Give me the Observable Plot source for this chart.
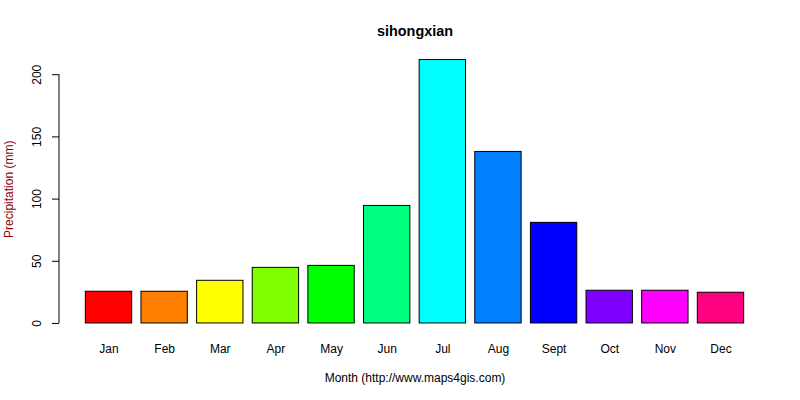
<!DOCTYPE html>
<html>
<head>
<meta charset="utf-8">
<script src="https://cdn.jsdelivr.net/npm/d3@7"></script>
<script src="https://cdn.jsdelivr.net/npm/@observablehq/plot@0.6"></script>
<style>
  html, body { margin: 0; padding: 0; background: #fff; }
  #chart svg { display: block; }
</style>
</head>
<body>
<div id="chart"></div>
<script>
const months = ["Jan","Feb","Mar","Apr","May","Jun","Jul","Aug","Sept","Oct","Nov","Dec"];
const precipitation = [25.5, 25.5, 34.3, 44.7, 46.3, 94.5, 211.8, 137.9, 80.9, 26.3, 26.3, 24.7];
const colors = ["#FF0000","#FF8000","#FFFF00","#80FF00","#00FF00","#00FF80","#00FFFF","#0080FF","#0000FF","#8000FF","#FF00FF","#FF0080"];
const yTicks = [0, 50, 100, 150, 200];
const titleText = "sihongxian";
const xLabel = "Month (http://www.maps4gis.com)";
const yLabel = "Precipitation (mm)";

const data = months.map((m, i) => ({month: m, value: precipitation[i], color: colors[i]}));

const maxV = d3.max(precipitation);
const ext = maxV * 0.04;

const marginLeft = 59, marginRight = 30, marginTop = 49, marginBottom = 66.5;

const chart = Plot.plot({
  width: 800,
  height: 400,
  marginLeft, marginRight, marginTop, marginBottom,
  style: {fontFamily: "Liberation Sans, Arial, sans-serif", fontSize: "12px", background: "white", color: "black"},
  x: {domain: months, paddingInner: 1/6, paddingOuter: 0.4733, round: false, label: null},
  y: {domain: [-ext, maxV + ext], label: null},
  marks: [
    Plot.barY(data, {x: "month", y1: 0, y2: "value", fill: "color", stroke: "black", strokeWidth: 1}),
    Plot.axisX({tickSize: 0, tickPadding: 10, fontSize: 12, label: null}),
    Plot.axisY({ticks: yTicks, tickSize: 7, tickPadding: 12, tickRotate: -90, fontSize: 12, label: null, textAnchor: "middle"}),
    Plot.text([titleText], {frameAnchor: "top", lineAnchor: "middle", dy: -18, text: d => d, fontWeight: "bold", fontSize: 14.4}),
    Plot.text([xLabel], {frameAnchor: "bottom", lineAnchor: "middle", dy: 44.5, text: d => d, fontSize: 12}),
    Plot.text([yLabel], {frameAnchor: "left", textAnchor: "middle", lineAnchor: "middle", dx: -50, dy: -2.5, rotate: -90, text: d => d, fontSize: 12, fill: "#8B0000"})
  ]
});

// y axis line spanning first to last tick, positioned by the y scale
const ys = chart.scale("y");
d3.select(chart).append("line")
  .attr("x1", marginLeft).attr("x2", marginLeft)
  .attr("y1", ys.apply(yTicks[0])).attr("y2", ys.apply(yTicks[yTicks.length - 1]))
  .attr("stroke", "black").attr("stroke-width", 1);

document.getElementById("chart").appendChild(chart);
</script>
</body>
</html>
